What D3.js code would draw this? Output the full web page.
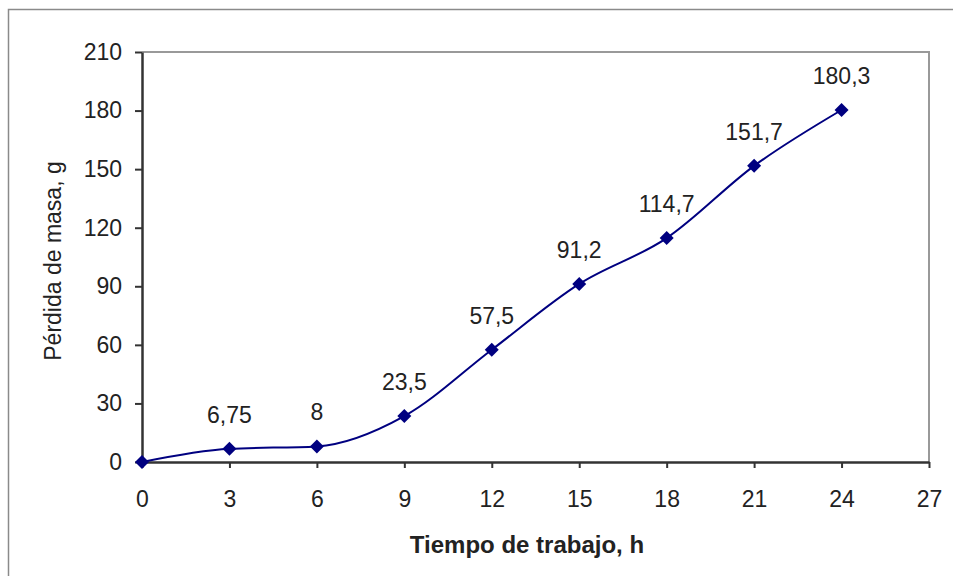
<!DOCTYPE html>
<html>
<head>
<meta charset="utf-8">
<script src="https://cdn.jsdelivr.net/npm/d3@7"></script>
<style>
    body { margin: 0; background: #fff; }
    .chart_chart { width: 953px; height: 576px; }
    text { font-family: "Liberation Sans", Arial, sans-serif; fill: #222; }
</style>
</head>
<body>
<div class="chart_chart"></div>
<script>
// data
const hours = [0, 3, 6, 9, 12, 15, 18, 21, 24];
const massLoss = [0, 6.75, 8, 23.5, 57.5, 91.2, 114.7, 151.7, 180.3];
const pointLabels = ['', '6,75', '8', '23,5', '57,5', '91,2', '114,7', '151,7', '180,3'];
const xTicks = [0, 3, 6, 9, 12, 15, 18, 21, 24, 27];
const yTicks = [0, 30, 60, 90, 120, 150, 180, 210];

(function () {
    const width = 953, height = 576;
    const padding = { top: 52, right: 24, bottom: 114, left: 142 };
    const innerWidth = width - padding.left - padding.right;
    const innerHeight = height - padding.top - padding.bottom;

    const svg = d3.select('.chart_chart').append('svg')
        .attr('width', width).attr('height', height);

    // outer frame
    svg.append('rect').attr('x', 8.5).attr('y', 9.5)
        .attr('width', width).attr('height', height)
        .attr('fill', 'none').attr('stroke', '#8a8a8a').attr('stroke-width', 1.5);

    const xScale = d3.scaleLinear().domain([0, 27]).range([0, innerWidth]);
    const yScale = d3.scaleLinear().domain([0, 210]).range([innerHeight, 0]);

    const g = svg.append('g').attr('transform', `translate(${padding.left},${padding.top})`);

    // plot area border (top and right)
    g.append('path')
        .attr('d', `M0,0H${xScale(27)}V${yScale(0)}`)
        .attr('fill', 'none').attr('stroke', '#999').attr('stroke-width', 2);

    const yAxis = g.append('g')
        .call(d3.axisLeft(yScale).tickValues(yTicks).tickSize(7).tickPadding(13).tickSizeOuter(0));
    const xAxis = g.append('g').attr('transform', `translate(0,${innerHeight})`)
        .call(d3.axisBottom(xScale).tickValues(xTicks).tickSize(6).tickPadding(23).tickSizeOuter(0));

    [xAxis, yAxis].forEach(a => {
        a.select('.domain').attr('stroke', '#333').attr('stroke-width', 2.5);
        a.selectAll('.tick line').attr('stroke', '#333').attr('stroke-width', 2);
        a.selectAll('.tick text').attr('font-size', 23).attr('fill', '#222')
            .attr('font-family', '"Liberation Sans", Arial, sans-serif');
    });

    const pts = hours.map((h, i) => [xScale(h), yScale(massLoss[i])]);

    const line = d3.line().curve(d3.curveMonotoneX);
    g.append('path').attr('d', line(pts))
        .attr('fill', 'none').attr('stroke', '#000080').attr('stroke-width', 2);

    const sym = d3.symbol().type(d3.symbolDiamond2).size(125);
    g.selectAll('.marker').data(pts).enter().append('path')
        .attr('class', 'marker')
        .attr('transform', d => `translate(${d[0]},${d[1]})`)
        .attr('d', sym).attr('fill', '#000080');

    g.selectAll('.lbl').data(pts).enter().append('text')
        .attr('class', 'lbl')
        .attr('x', d => d[0]).attr('y', d => d[1] - 26)
        .attr('text-anchor', 'middle').attr('font-size', 23)
        .text((d, i) => pointLabels[i]);

    svg.append('text')
        .attr('x', 527).attr('y', 553)
        .attr('text-anchor', 'middle').attr('font-size', 24).attr('font-weight', 'bold')
        .text('Tiempo de trabajo, h');

    svg.append('text')
        .attr('transform', `translate(61,261) rotate(-90)`)
        .attr('text-anchor', 'middle').attr('font-size', 23)
        .text('Pérdida de masa, g');
})();
</script>
</body>
</html>
